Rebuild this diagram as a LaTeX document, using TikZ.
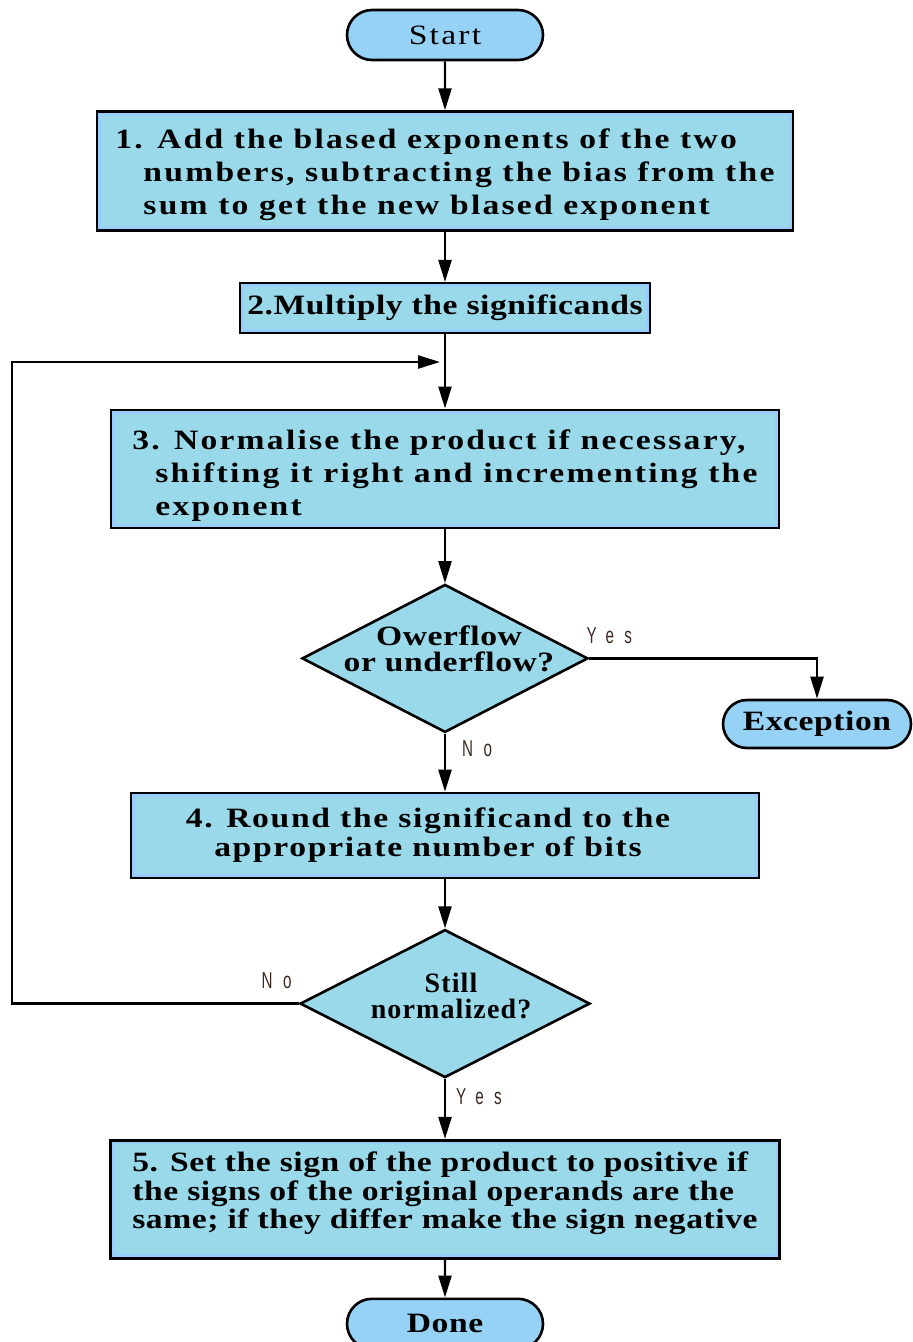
\documentclass[tikz,border=0pt]{standalone}
\usepackage{fontspec}
\setmainfont{Liberation Serif}
\newfontfamily\widefont[FakeStretch=1.2,LetterSpace=8]{Liberation Serif}
\newfontfamily\midfont[FakeStretch=1.2,LetterSpace=6]{Liberation Serif}
\newfontfamily\tightfont[FakeStretch=1.2,LetterSpace=2]{Liberation Serif}
\newfontfamily\plainfont[LetterSpace=4]{Liberation Serif}
\newfontfamily\answerfont[FakeStretch=0.66,LetterSpace=45]{Liberation Sans}
\usetikzlibrary{arrows.meta,positioning,shapes.geometric,shapes.misc}
\definecolor{stepblue}{RGB}{153,217,234}
\definecolor{rimblue}{RGB}{153,204,255}
\definecolor{termblue}{RGB}{150,210,245}
\definecolor{answercol}{RGB}{60,40,35}

\begin{document}
\begin{tikzpicture}[
  node distance=25pt,
  stepbox/.style={draw, line width=1.3pt, fill=rimblue, align=left, inner sep=0pt,
    path picture={\fill[stepblue] ([shift={(2pt,-2pt)}]path picture bounding box.north west)
      rectangle ([shift={(-2pt,2pt)}]path picture bounding box.south east);},
    font=\widefont\bfseries\fontsize{14}{16.5}\selectfont},
  term/.style={draw, line width=1.3pt, rounded rectangle, fill=termblue, minimum width=98pt,
    minimum height=25pt, inner sep=0pt, font=\tightfont\bfseries\fontsize{14}{15}\selectfont},
  decision/.style={draw, diamond, line width=1.3pt, fill=stepblue, inner sep=0pt,
    minimum width=143pt, minimum height=74pt},
  dectext/.style={align=center, inner sep=0pt, font=\tightfont\bfseries\fontsize{14}{13}\selectfont},
  answer/.style={font=\answerfont\fontsize{11.5}{11.5}\selectfont, text=answercol, inner sep=0pt},
  arr/.style={-{Triangle[length=11pt,width=6.5pt]}, line width=1.2pt}
]
\useasboundingbox (0pt,0pt) rectangle (456pt,-671pt);

\node[term, font=\widefont\fontsize{14}{15}\selectfont] (start) at (222.5pt,-17.5pt) {Start};
\node[stepbox, minimum width=348pt, minimum height=59.5pt, below=24.5pt of start] (add)
  {\rule{0pt}{13.7pt}1. Add the blased exponents of the two\\
   \hspace*{14pt}numbers, subtracting the bias from the\\
   \hspace*{14pt}sum to get the new blased exponent};
\node[stepbox, minimum width=205pt, minimum height=25pt, below=of add,
  font=\tightfont\bfseries\fontsize{14}{15}\selectfont] (mult) {2.Multiply the significands};
\node[stepbox, minimum width=334pt, minimum height=59pt, below=37pt of mult] (norm)
  {\rule{0pt}{16.7pt}3. Normalise the product if necessary,\\
   \hspace*{11.5pt}shifting it right and incrementing the\\
   \hspace*{11.5pt}exponent};
\node[decision, below=27pt of norm,
  label={[dectext, xshift=2pt, yshift=5pt]center:Owerflow\\or underflow?}] (ovf) {};
\node[term, minimum width=94pt, minimum height=24pt] (exc) at (408.5pt,-362pt) {Exception};
\node[stepbox, align=center, minimum width=314pt, minimum height=42.5pt, below=29pt of ovf,
  font=\midfont\bfseries\fontsize{14}{14.5}\selectfont] (round)
  {4. Round the significand to the\hspace*{17pt}\\appropriate number of bits\hspace*{17pt}};
\node[decision, minimum width=145pt, below=24.5pt of round,
  label={[dectext, xshift=3pt, yshift=4pt, font=\plainfont\bfseries\fontsize{14}{13}\selectfont]center:Still\\normalized?}] (still) {};
\node[stepbox, minimum width=334.5pt, minimum height=59pt, below=30pt of still,
  font=\tightfont\bfseries\fontsize{14}{14.25}\selectfont] (sign)
  {5. Set the sign of the product to positive if\\
   the signs of the original operands are the\\
   same; if they differ make the sign negative\rule[-9pt]{0pt}{0pt}};
\node[term, below=19pt of sign] (done) {Done};

% loop back above step 3
\coordinate (rail) at (6pt,-181pt);
\coordinate (merge) at (220pt,-181pt);

\draw[arr] (start) -- (add);
\draw[arr] (add) -- (mult);
\draw[arr] (mult) -- (norm);
\draw[arr] (norm) -- (ovf);
\draw[arr] (ovf.east) -| node[answer, pos=0, anchor=south west, xshift=-2pt, yshift=6.5pt] {Yes} (exc.north);
\draw[arr] (ovf) -- node[answer, pos=0, anchor=north west, xshift=8pt, yshift=-3pt] {No} (round);
\draw[arr] (round) -- (still);
\draw[arr] (still.west) -| node[answer, pos=0, anchor=south east, xshift=-3pt, yshift=7pt] {No} (rail) -- (merge);
\draw[arr] (still) -- node[answer, pos=0, anchor=north west, xshift=5pt, yshift=-4.5pt] {Yes} (sign);
\draw[arr] (sign) -- (done);
\end{tikzpicture}
\end{document}
